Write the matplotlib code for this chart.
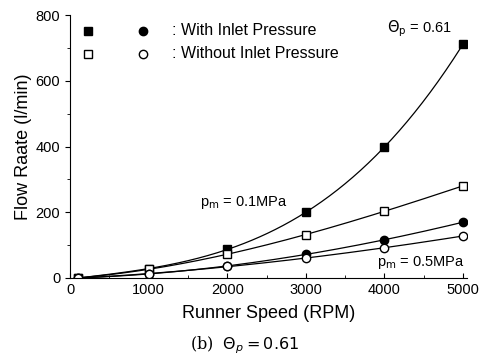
import numpy as np
import matplotlib.pyplot as plt
from matplotlib.ticker import MultipleLocator

plt.rcParams['font.family'] = ['Liberation Sans', 'DejaVu Sans']

# runner speed (RPM)
rpm = [100, 1000, 2000, 3000, 4000, 5000]

# flow rate (l/min)
con_01 = [0, 27, 88, 200, 398, 712]     # with inlet pressure, pm=0.1MPa
sin_01 = [0, 27, 72, 131, 204, 280]     # without inlet pressure, pm=0.1MPa
con_05 = [0, 12, 36, 73, 115, 170]      # with inlet pressure, pm=0.5MPa
sin_05 = [0, 12, 35, 61, 91, 128]       # without inlet pressure, pm=0.5MPa

fig = plt.figure(figsize=(4.9, 3.6), dpi=100)
ax = fig.add_axes([0.143, 0.228, 0.81, 0.73])

xs = np.linspace(rpm[0], rpm[-1], 200)
series = [(con_01, 's', 'k'), (sin_01, 's', 'w'), (con_05, 'o', 'k'), (sin_05, 'o', 'w')]
for datos, m, fc in series:
    c = np.polyfit(rpm, datos, 3)
    ax.plot(xs, np.polyval(c, xs), color='k', lw=0.9, zorder=1)
    ax.plot(rpm, datos, ls='none', marker=m, ms=6, mfc=fc, mec='k', mew=1, zorder=2)

ax.set_xlim(0, 5050)
ax.set_ylim(0, 800)
ax.xaxis.set_major_locator(MultipleLocator(1000))
ax.xaxis.set_minor_locator(MultipleLocator(500))
ax.yaxis.set_major_locator(MultipleLocator(200))
ax.yaxis.set_minor_locator(MultipleLocator(100))
ax.tick_params(axis='x', which='both', direction='in', labelsize=10.5)
ax.tick_params(axis='y', which='both', direction='out', labelsize=10.5)
ax.spines['top'].set_visible(False)
ax.spines['right'].set_visible(False)

ax.set_xlabel('Runner Speed (RPM)', fontsize=13, labelpad=6)
ax.set_ylabel('Flow Raate (l/min)', fontsize=13, labelpad=3)

# legend hecho a mano
ax.plot([230], [752], 's', ms=6, mfc='k', mec='k', clip_on=False)
ax.plot([930], [752], 'o', ms=6, mfc='k', mec='k', clip_on=False)
ax.plot([230], [682], 's', ms=6, mfc='w', mec='k', clip_on=False)
ax.plot([930], [682], 'o', ms=6, mfc='w', mec='k', clip_on=False)
ax.text(1300, 752, ': With Inlet Pressure', fontsize=11.5, va='center')
ax.text(1300, 682, ': Without Inlet Pressure', fontsize=11.5, va='center')
ax.text(4030, 758, r'$\Theta_\mathrm{p}$ = 0.61', fontsize=10.5, va='center')
ax.text(1650, 230, r'p$_\mathrm{m}$ = 0.1MPa', fontsize=10.5, va='center')
ax.text(3900, 48, r'p$_\mathrm{m}$ = 0.5MPa', fontsize=10.5, va='center')

fig.text(0.5, 0.03, r'(b)  $\Theta_{p}=0.61$', fontsize=11.5, ha='center',
         family='DejaVu Serif')

fig.savefig('out.png', dpi=100)
